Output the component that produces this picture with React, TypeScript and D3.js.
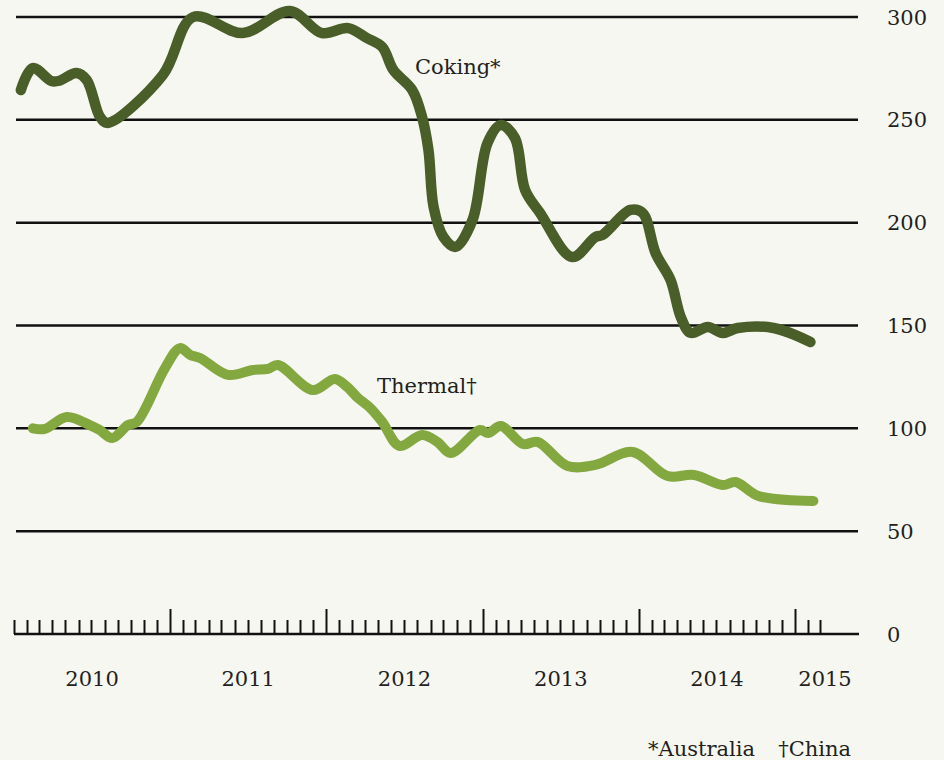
import { useMemo } from "react";
import * as d3 from "d3";

const WIDTH = 944;
const HEIGHT = 760;
const BG = "#f7f7f2";
const FONT = "Georgia, 'DejaVu Serif', serif";

const COKING_DATES = [
  "2010-01-17", "2010-02-14", "2010-03-29", "2010-04-17", "2010-05-27", "2010-06-20",
  "2010-07-21", "2010-08-08", "2010-12-15", "2011-02-24", "2011-06-20", "2011-10-08",
  "2011-12-22", "2012-02-21", "2012-04-05", "2012-05-11", "2012-06-06", "2012-07-20",
  "2012-08-12", "2012-08-27", "2012-09-08", "2012-10-01", "2012-10-29", "2012-12-08",
  "2013-01-12", "2013-02-12", "2013-03-17", "2013-04-10", "2013-05-15", "2013-07-29",
  "2013-09-21", "2013-10-08", "2013-12-12", "2014-01-10", "2014-02-09", "2014-03-16",
  "2014-04-09", "2014-05-02", "2014-06-11", "2014-07-16", "2014-08-20", "2014-11-12",
  "2015-02-06",
];
const COKING_VALUES = [
  264.5, 275.2, 268.9, 269, 272.8, 269.4,
  251.4, 248.5, 271.8, 300, 292.2, 302.9,
  292.2, 294.6, 289.8, 285.4, 274.2, 264.5,
  251.4, 235.3, 207.6, 193, 188.2, 201.3,
  238.7, 247.5, 241.2, 215.9, 204.7, 183.3,
  193, 194, 206.2, 204.7, 185.2, 172.1,
  154.1, 146.4, 149.3, 146.4, 148.8, 148.8,
  142,
];

const THERMAL_DATES = [
  "2010-02-14", "2010-03-14", "2010-05-04", "2010-06-27", "2010-07-20", "2010-08-19",
  "2010-09-24", "2010-10-15", "2010-12-20", "2011-01-24", "2011-02-17", "2011-03-12",
  "2011-05-16", "2011-07-14", "2011-08-18", "2011-09-10", "2011-12-01", "2012-01-21",
  "2012-02-19", "2012-03-13", "2012-04-13", "2012-05-11", "2012-06-20", "2012-08-12",
  "2012-09-17", "2012-10-18", "2012-12-25", "2013-01-14", "2013-02-12", "2013-04-05",
  "2013-05-09", "2013-07-18", "2013-09-21", "2013-12-17", "2014-03-09", "2014-05-10",
  "2014-07-16", "2014-08-15", "2014-10-08", "2015-02-13",
];
const THERMAL_VALUES = [
  100, 99.7, 105.5, 101.6, 99.2, 95.3,
  101.6, 103.1, 129.3, 139, 135.7, 134.2,
  126, 128.4, 128.9, 130.8, 118.6, 124,
  120.1, 115.2, 109.9, 103.1, 91.5, 96.8,
  93.4, 88, 99.2, 97.7, 101.1, 92.4,
  93.4, 81.7, 82.2, 88.5, 76.8, 77.3,
  72.4, 73.9, 67.1, 64.7,
];

const Y_TICKS = [0, 50, 100, 150, 200, 250, 300];
const YEARS = [2010, 2011, 2012, 2013, 2014, 2015];

const parse = d3.timeParse("%Y-%m-%d");

const App = () => {
  const x = d3
    .scaleTime()
    .domain([new Date(2010, 0, 1), new Date(2015, 0, 1)])
    .range([14, 795]);
  const y = d3.scaleLinear().domain([0, 300]).range([634, 17]);
  const axisRight = 859;

  const coking = useMemo(
    () => COKING_DATES.map((d, i) => ({ date: parse(d) as Date, value: COKING_VALUES[i] })),
    []
  );
  const thermal = useMemo(
    () => THERMAL_DATES.map((d, i) => ({ date: parse(d) as Date, value: THERMAL_VALUES[i] })),
    []
  );

  // smooth a little, like the original
  const line = d3
    .line<{ date: Date; value: number }>()
    .x((d) => x(d.date))
    .y((d) => y(d.value))
    .curve(d3.curveCatmullRom.alpha(0.5));

  const months = d3.timeMonth.range(new Date(2010, 0, 1), new Date(2015, 3, 1));

  return (
    <svg
      width={WIDTH}
      height={HEIGHT}
      style={{ position: "absolute", left: 0, top: 0, display: "block" }}
    >
      <rect width={WIDTH} height={HEIGHT} fill={BG} />

      {/* gridlines */}
      {Y_TICKS.filter((t) => t > 0).map((t) => (
        <line key={t} x1={16} x2={858} y1={y(t)} y2={y(t)} stroke="#111" strokeWidth={2.5} />
      ))}

      {/* y labels */}
      {Y_TICKS.map((t) => (
        <text
          key={"yl" + t}
          x={887}
          y={y(t)}
          dy="0.36em"
          fontFamily={FONT}
          fontSize={21}
          fill="#231f20"
        >
          {t}
        </text>
      ))}

      {/* baseline + month ticks */}
      <line x1={14} x2={axisRight} y1={y(0)} y2={y(0)} stroke="#111" strokeWidth={2.5} />
      {months.map((m, i) => {
        const big = m.getMonth() === 0 && m.getFullYear() > 2010;
        const xx = Math.round(x(m)) + 0.5;
        return (
          <line
            key={"t" + i}
            x1={xx}
            x2={xx}
            y1={y(0)}
            y2={y(0) - (big ? 25 : 14)}
            stroke="#111"
            strokeWidth={2}
          />
        );
      })}

      {/* year labels */}
      {YEARS.map((yr) => {
        const x0 = x(new Date(yr, 0, 1));
        const x1 = Math.min(x(new Date(yr + 1, 0, 1)), axisRight - 4);
        return (
          <text
            key={"yr" + yr}
            x={(x0 + x1) / 2}
            y={686}
            textAnchor="middle"
            fontFamily={FONT}
            fontSize={21}
            fill="#231f20"
          >
            {yr}
          </text>
        );
      })}

      {/* series */}
      <path
        d={line(thermal) || ""}
        fill="none"
        stroke="#84a840"
        strokeWidth={10}
        strokeLinecap="round"
        strokeLinejoin="round"
      />
      <path
        d={line(coking) || ""}
        fill="none"
        stroke="#495e28"
        strokeWidth={10.5}
        strokeLinecap="round"
        strokeLinejoin="round"
      />

      {/* series labels */}
      <text x={415} y={74} fontFamily={FONT} fontSize={21} fill="#231f20">
        Coking*
      </text>
      <text x={377} y={393} fontFamily={FONT} fontSize={21} fill="#231f20">
        Thermal†
      </text>

      {/* footnote */}
      <text x={755} y={756} textAnchor="end" fontFamily={FONT} fontSize={21} fill="#231f20">
        *Australia
      </text>
      <text x={851} y={756} textAnchor="end" fontFamily={FONT} fontSize={21} fill="#231f20">
        †China
      </text>
    </svg>
  );
};

export default App;
